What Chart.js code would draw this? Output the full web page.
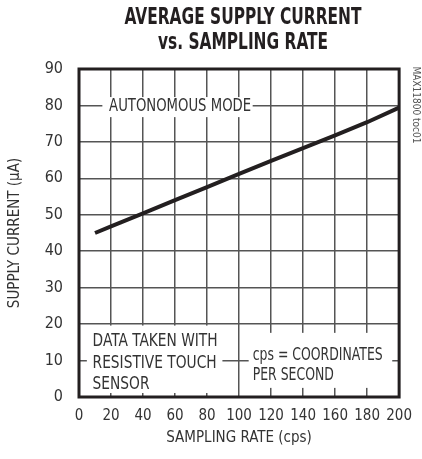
<!DOCTYPE html>
<html>
<head>
<meta charset="utf-8">
<script src="https://cdn.jsdelivr.net/npm/chart.js@4"></script>
<style>
  html, body { margin: 0; padding: 0; background: #fff; }
  #wrap { width: 422px; height: 459px; }
</style>
</head>
<body>
<div id="wrap"><canvas id="chart" width="422" height="459"></canvas></div>
<script>
// グラフのデータ
const samplingRate = [10, 20, 40, 60, 80, 100, 120, 140, 160, 180, 200];
const supplyCurrent = [45, 46.8, 50.4, 54, 57.6, 61.2, 64.8, 68.3, 71.8, 75.4, 79.4];
const xTicks = [0, 20, 40, 60, 80, 100, 120, 140, 160, 180, 200];
const yTicks = [0, 10, 20, 30, 40, 50, 60, 70, 80, 90];

const titleLines = ["AVERAGE SUPPLY CURRENT", "vs. SAMPLING RATE"];
const modeLabel = "AUTONOMOUS MODE";
const noteLeft = ["DATA TAKEN WITH", "RESISTIVE TOUCH", "SENSOR"];
const noteRight = ["cps = COORDINATES", "PER SECOND"];
const sideCode = "MAX11800 toc01";

const FONT = '"DejaVu Sans Condensed", "Liberation Sans", Arial, sans-serif';
const TEXT_COLOR = "#333";

// 横方向に詰めて文字を書く（元の図は細い書体なので）
function drawSqueezed(ctx, text, x, y, sx) {
  ctx.save();
  ctx.translate(x, y);
  ctx.scale(sx, 1);
  ctx.fillText(text, 0, 0);
  ctx.restore();
}

// 注記ボックス（グリッドを白で隠してから文字を書く）
const notesPlugin = {
  id: "notes",
  beforeDatasetsDraw(chart) {
    const { ctx, scales: { x, y } } = chart;
    const boxes = [
      [4.9, 89.6, 1.1, 19.6],
      [106, 195.7, 2.5, 17.6],
      [14.6, 108.5, 76.8, 82.3]
    ];
    ctx.save();
    ctx.fillStyle = "#fff";
    boxes.forEach(([x0, x1, y0, y1]) => {
      const px0 = x.getPixelForValue(x0);
      const px1 = x.getPixelForValue(x1);
      const py0 = y.getPixelForValue(y1);
      const py1 = y.getPixelForValue(y0);
      ctx.fillRect(px0, py0, px1 - px0, py1 - py0);
    });

    ctx.fillStyle = TEXT_COLOR;
    ctx.font = `17px ${FONT}`;
    ctx.textAlign = "left";
    ctx.textBaseline = "middle";

    const sMode = 142 / ctx.measureText(modeLabel).width;
    drawSqueezed(ctx, modeLabel, x.getPixelForValue(18.8), y.getPixelForValue(80) + 1, sMode);

    const sLeft = 125 / ctx.measureText(noteLeft[0]).width;
    noteLeft.forEach((line, i) => {
      drawSqueezed(ctx, line, x.getPixelForValue(8.5), y.getPixelForValue(15.1) + i * 21.5, sLeft);
    });
    const sRight = 130 / ctx.measureText(noteRight[0]).width;
    noteRight.forEach((line, i) => {
      drawSqueezed(ctx, line, x.getPixelForValue(108.5), y.getPixelForValue(11.5) + i * 20.5, sRight);
    });
    ctx.restore();
  },
  afterDraw(chart) {
    const { ctx, chartArea: a } = chart;
    ctx.save();
    // 外枠
    ctx.strokeStyle = "#231f20";
    ctx.lineWidth = 3;
    ctx.strokeRect(a.left, a.top, a.right - a.left, a.bottom - a.top);

    // タイトル
    ctx.fillStyle = "#231f20";
    ctx.font = `bold 23px ${FONT}`;
    ctx.textAlign = "center";
    ctx.textBaseline = "middle";
    const sTitle = 237 / ctx.measureText(titleLines[0]).width;
    drawSqueezed(ctx, titleLines[0], 243, 18, sTitle);
    drawSqueezed(ctx, titleLines[1], 243, 43, sTitle);

    // 右側の図番号
    ctx.translate(416, 105);
    ctx.rotate(Math.PI / 2);
    ctx.font = `10px ${FONT}`;
    ctx.fillStyle = "#555";
    ctx.fillText(sideCode, 0, 0);
    ctx.restore();
  }
};

new Chart(document.getElementById("chart"), {
  type: "line",
  data: {
    labels: samplingRate,
    datasets: [{
      data: samplingRate.map((s, i) => ({ x: s, y: supplyCurrent[i] })),
      borderColor: "#231f20",
      borderWidth: 4,
      pointRadius: 0,
      fill: false,
      tension: 0,
      clip: false
    }]
  },
  options: {
    responsive: false,
    animation: false,
    layout: { padding: { top: 69, right: 15, bottom: 0, left: 0 } },
    plugins: {
      legend: { display: false },
      tooltip: { enabled: false }
    },
    scales: {
      x: {
        type: "linear",
        min: 0,
        max: 200,
        afterBuildTicks: scale => { scale.ticks = xTicks.map(v => ({ value: v })); },
        afterFit: scale => { scale.height = 62; },
        grid: { color: "#555", lineWidth: 1.5, drawTicks: false },
        border: { display: false },
        ticks: {
          padding: 10,
          color: TEXT_COLOR,
          font: { family: FONT, size: 15 },
          maxRotation: 0
        },
        title: {
          display: true,
          text: "SAMPLING RATE (cps)",
          color: TEXT_COLOR,
          font: { family: FONT, size: 15 },
          padding: { top: 0, bottom: 12 }
        }
      },
      y: {
        min: 0,
        max: 90,
        afterBuildTicks: scale => { scale.ticks = yTicks.map(v => ({ value: v })); },
        afterFit: scale => { scale.width = 79; },
        grid: { color: "#555", lineWidth: 1.5, drawTicks: false },
        border: { display: false },
        ticks: {
          padding: 16,
          color: TEXT_COLOR,
          font: { family: FONT, size: 16 }
        },
        title: {
          display: true,
          text: "SUPPLY CURRENT (μA)",
          color: TEXT_COLOR,
          font: { family: FONT, size: 15 },
          padding: { top: 6, bottom: 0 }
        }
      }
    }
  },
  plugins: [notesPlugin]
});
</script>
</body>
</html>
